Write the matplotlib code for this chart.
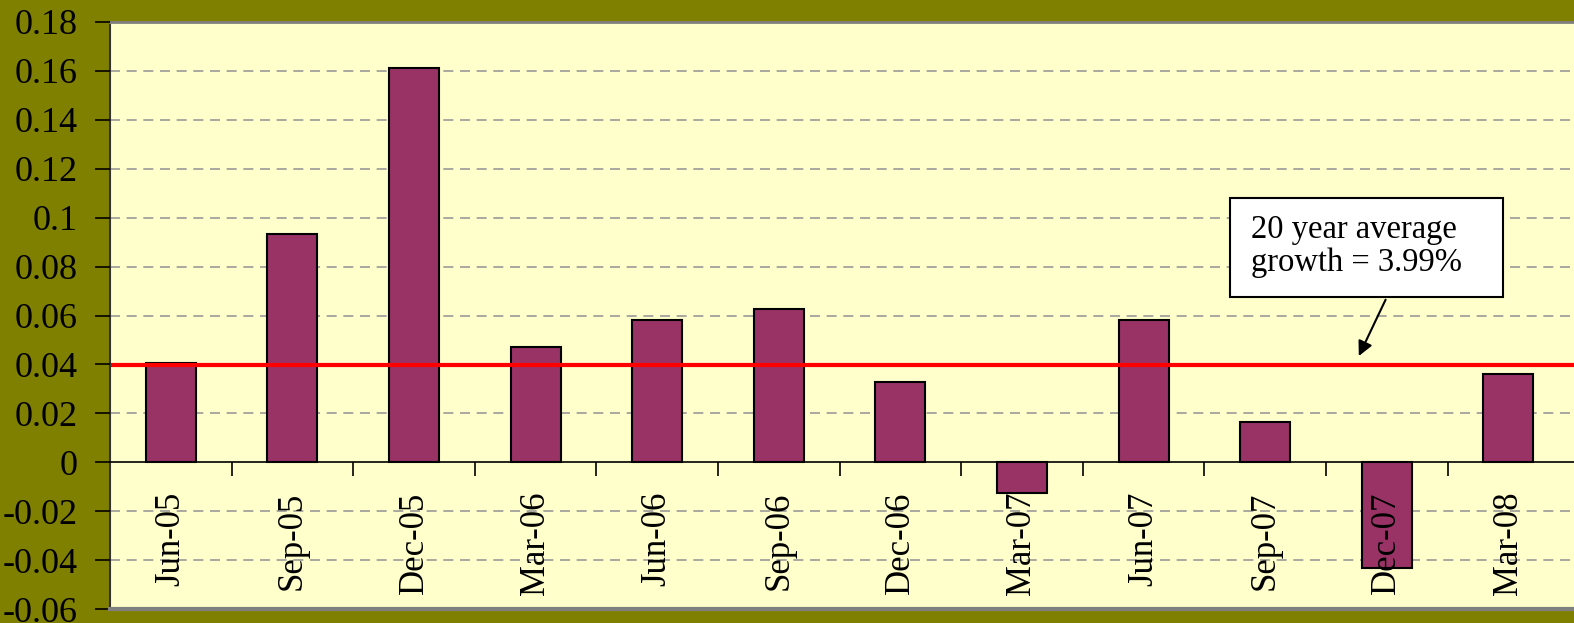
import matplotlib.pyplot as plt
from matplotlib.patches import Rectangle

# Quarterly growth values
quarters = ['Jun-05', 'Sep-05', 'Dec-05', 'Mar-06', 'Jun-06', 'Sep-06',
            'Dec-06', 'Mar-07', 'Jun-07', 'Sep-07', 'Dec-07', 'Mar-08']
growth = [0.0405, 0.0933, 0.1613, 0.0472, 0.0582, 0.0628,
          0.0327, -0.0127, 0.0582, 0.0163, -0.0432, 0.0360]
avg_growth = 0.0399

y_ticks = [-0.06, -0.04, -0.02, 0, 0.02, 0.04, 0.06, 0.08, 0.1, 0.12, 0.14, 0.16, 0.18]
y_labels = ['-0.06', '-0.04', '-0.02', '0', '0.02', '0.04', '0.06', '0.08',
            '0.1', '0.12', '0.14', '0.16', '0.18']

plt.rcParams['font.family'] = ['Liberation Serif', 'DejaVu Serif']

fig = plt.figure(figsize=(15.74, 6.23), dpi=100, facecolor='#808000')
ax = fig.add_axes([110 / 1574, 14 / 623, 1 - 110 / 1574, 587 / 623])
ax.set_facecolor('#FFFFCC')
# axis (and its tick labels) drawn over the bars, like the original
ax.set_axisbelow(False)

x = list(range(len(quarters)))
ax.bar(x, growth, width=0.41, color='#993366', edgecolor='black',
       linewidth=1.5, zorder=2)

# 20 year average line
ax.axhline(avg_growth, color='red', linewidth=3, zorder=2.2)

ax.set_ylim(-0.06, 0.18)
ax.set_xlim(-0.5, -0.5 + 1464 / 121.6)

# y axis
ax.set_yticks(y_ticks)
ax.set_yticklabels(y_labels)
ax.tick_params(axis='y', direction='out', length=11, width=1.2, pad=12,
               labelsize=26, colors='black')
for t in y_ticks:
    if t not in (0, -0.06, 0.18):
        ax.axhline(t, color='#999999', linewidth=1.2, linestyle=(0, (6, 4)), zorder=1)

# x axis sits on zero
ax.spines['bottom'].set_position(('data', 0))
ax.spines['bottom'].set_linewidth(1.2)
ax.spines['right'].set_visible(False)
ax.spines['top'].set_color('#808080')
ax.spines['top'].set_linewidth(2)
ax.spines['left'].set_color('#333333')
ax.spines['left'].set_linewidth(1.5)
# grey frame line along the bottom of the plot area
ax.axhline(-0.06, color='#808080', linewidth=3, zorder=5, clip_on=False)

ax.set_xticks([i + 0.5 for i in x[:-1]])
ax.set_xticklabels([])
ax.tick_params(axis='x', which='major', direction='out', length=10, width=1.2)
ax.set_xticks(x, minor=True)
ax.set_xticklabels(quarters, minor=True, rotation=90, fontsize=25)
ax.tick_params(axis='x', which='minor', length=0, pad=21)

# annotation box with arrow
box = Rectangle((8.71, 0.0675), 2.245, 0.0405, facecolor='white',
                edgecolor='black', linewidth=1.5, zorder=6)
ax.add_patch(box)
ax.text(8.88, 0.0884, '20 year average\ngrowth = 3.99%', fontsize=23.5,
        ha='left', va='center', linespacing=1.1, zorder=7)
ax.annotate('', xy=(9.76, avg_growth + 0.0025), xytext=(10.0, 0.0675),
            arrowprops=dict(arrowstyle='-|>', color='black', lw=1.5,
                            mutation_scale=22), zorder=7)

fig.savefig('out.png', dpi=100, facecolor=fig.get_facecolor())
